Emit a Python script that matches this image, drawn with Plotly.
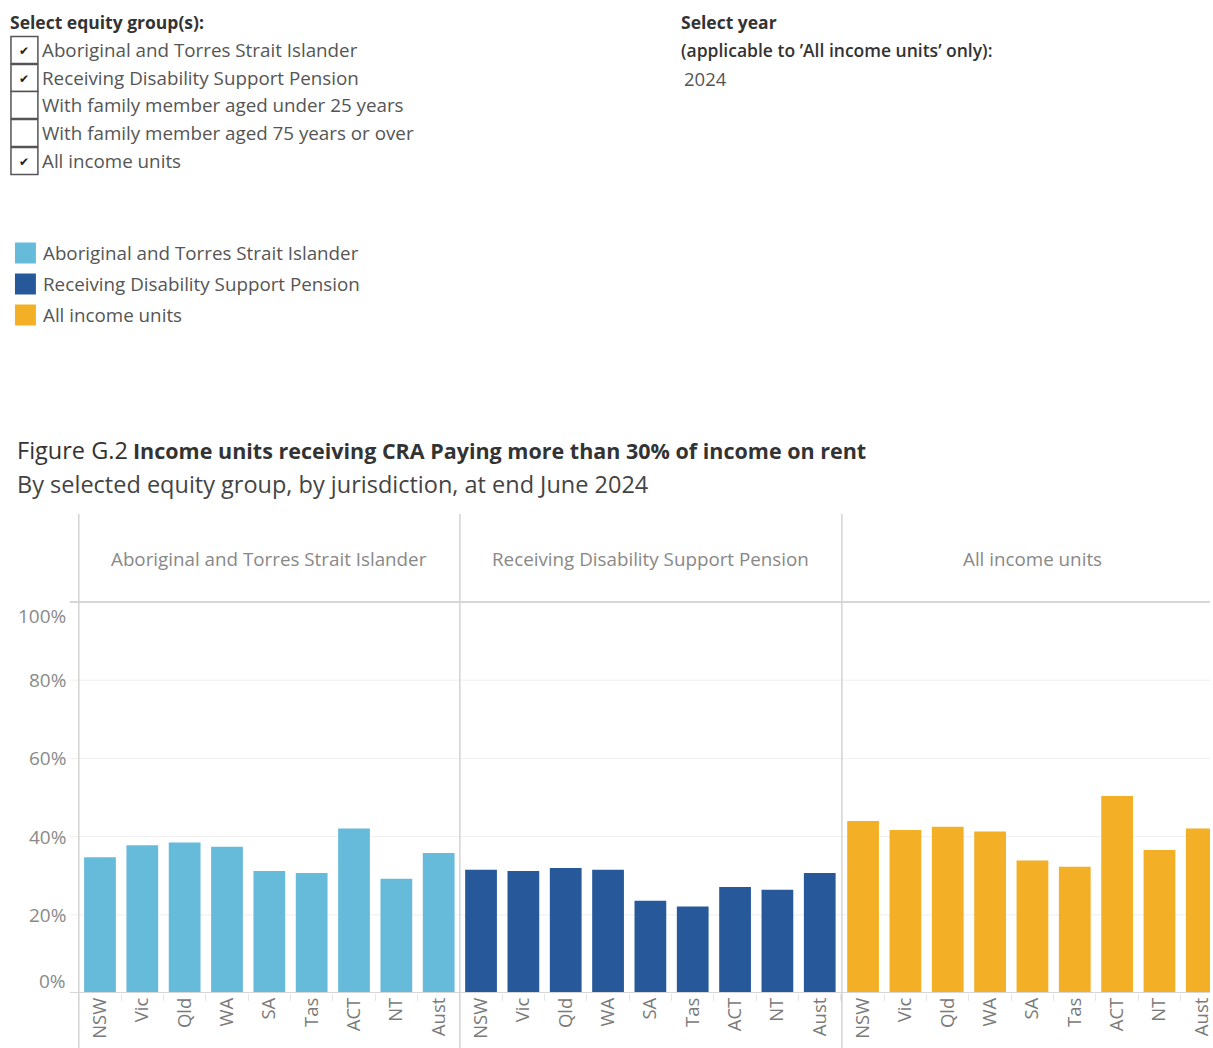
import plotly.graph_objects as go

W, H = 1213, 1048

# ---------------- data ----------------
jurisdictions = ["NSW", "Vic", "Qld", "WA", "SA", "Tas", "ACT", "NT", "Aust"]
groups = ["Aboriginal and Torres Strait Islander",
          "Receiving Disability Support Pension",
          "All income units"]
aboriginal = [34.7, 37.8, 38.5, 37.4, 31.2, 30.7, 42.1, 29.2, 35.8]
dsp = [31.5, 31.2, 32.0, 31.5, 23.6, 22.1, 27.1, 26.4, 30.7]
all_units = [44.0, 41.7, 42.5, 41.3, 33.9, 32.3, 50.4, 36.6, 42.1]
series = [aboriginal, dsp, all_units]
colors = ["#67BBDA", "#27599A", "#F3B027"]
y_ticks = [0, 20, 40, 60, 80, 100]
y_tick_labels = ["0%", "20%", "40%", "60%", "80%", "100%"]
checkbox_items = ["Aboriginal and Torres Strait Islander",
                  "Receiving Disability Support Pension",
                  "With family member aged under 25 years",
                  "With family member aged 75 years or over",
                  "All income units"]
checked = [True, True, False, False, True]
year = "2024"

FONT = "Open Sans"


def px(x):
    return x / W


def py(y):
    return 1 - y / H


fig = go.Figure()

panel_px = [(79, 461), (461, 844), (844, 1213)]
cat_w = (461 - 79) / 9.0
axis_names = ["x", "x2", "x3"]
for i, (vals, col) in enumerate(zip(series, colors)):
    fig.add_trace(go.Bar(
        x=jurisdictions, y=vals, marker=dict(color=col, line=dict(width=0)),
        xaxis=axis_names[i], yaxis="y", showlegend=False,
        name=groups[i],
        hovertemplate="%{x}: %{y:.1f}%<extra>" + groups[i] + "</extra>",
    ))

ydom = [py(993), py(602)]
layout = dict(
    width=W, height=H, margin=dict(l=0, r=0, t=0, b=0),
    paper_bgcolor="white", plot_bgcolor="rgba(0,0,0,0)",
    bargap=0.25, font=dict(family=FONT, color="#555"),
    yaxis=dict(domain=ydom, range=[0, 100], showgrid=False, zeroline=False,
               showticklabels=False, showline=False, fixedrange=True),
)
for i, (a, b) in enumerate(panel_px):
    key = "xaxis" if i == 0 else f"xaxis{i + 1}"
    vis_cats = (b - a) / cat_w
    layout[key] = dict(
        domain=[px(a), min(1.0, px(b))], anchor="y",
        range=[-0.5, -0.5 + vis_cats],
        type="category", categoryorder="array", categoryarray=jurisdictions,
        showgrid=False, zeroline=False, showline=False,
        ticks="outside", tickson="boundaries", ticklen=7, tickwidth=1,
        tickcolor="#e6e6e6",
        tickangle=-90, tickfont=dict(family=FONT, size=18.5, color="#7a7a7a"),
        fixedrange=True,
    )
fig.update_layout(**layout)

shapes = []
ann = []

# gridlines
for t in y_ticks[1:-1]:
    shapes.append(dict(type="line", xref="paper", yref="y", x0=px(70), x1=1,
                       y0=t, y1=t, line=dict(color="#efefef", width=1), layer="below"))
# zero line and header line
shapes.append(dict(type="line", xref="paper", yref="y", x0=px(70), x1=1,
                   y0=0, y1=0, line=dict(color="#d6d6d6", width=2), layer="above"))
shapes.append(dict(type="line", xref="paper", yref="paper", x0=px(70), x1=1,
                   y0=py(602), y1=py(602), line=dict(color="#d6d6d6", width=2)))
# panel divider lines
for xv in [79, 461, 844]:
    shapes.append(dict(type="line", xref="paper", yref="paper", x0=px(xv), x1=px(xv),
                       y0=py(514), y1=0, line=dict(color="#d3d3d3", width=1.5)))

# y tick labels (edge labels nudged inward as in the reference)
for t, lab in zip(y_ticks, y_tick_labels):
    shift = 0
    if t == 0:
        shift = 12
    elif t == 100:
        shift = -14
    ann.append(dict(xref="paper", yref="y", x=px(68), y=t, text=lab, showarrow=False,
                    xanchor="right", yanchor="middle", yshift=shift,
                    font=dict(family=FONT, size=19, color="#8a8a8a")))

# panel headers
for (a, b), g in zip([(79, 461), (461, 844), (844, 1227)], groups):
    ann.append(dict(xref="paper", yref="paper", x=px((a + b) / 2), y=py(559), text=g,
                    showarrow=False, xanchor="center", yanchor="middle",
                    font=dict(family=FONT, size=18.8, color="#888")))

# title and subtitle
ann.append(dict(xref="paper", yref="paper", x=px(15), y=py(450),
                text="Figure G.2",
                showarrow=False, xanchor="left", yanchor="middle",
                font=dict(family=FONT, size=23.5, color="#333")))
ann.append(dict(xref="paper", yref="paper", x=px(131), y=py(450),
                text="<b>Income units receiving CRA Paying more than 30% of income on rent</b>",
                showarrow=False, xanchor="left", yanchor="middle",
                font=dict(family=FONT, size=21.5, color="#333")))
ann.append(dict(xref="paper", yref="paper", x=px(15), y=py(484),
                text="By selected equity group, by jurisdiction, at end June 2024",
                showarrow=False, xanchor="left", yanchor="middle",
                font=dict(family=FONT, size=23.5, color="#444")))

# filter: equity groups
ann.append(dict(xref="paper", yref="paper", x=px(8), y=py(22),
                text="<b>Select equity group(s):</b>", showarrow=False,
                xanchor="left", yanchor="middle",
                font=dict(family=FONT, size=17.5, color="#333")))
row_y = [50, 78, 105, 133, 161]
for yy, lab, ck in zip(row_y, checkbox_items, checked):
    shapes.append(dict(type="rect", xref="paper", yref="paper",
                       x0=px(11), x1=px(38), y0=py(yy - 13.5), y1=py(yy + 13.5),
                       line=dict(color="#555", width=1.5), fillcolor="white"))
    if ck:
        ann.append(dict(xref="paper", yref="paper", x=px(24.5), y=py(yy + 1), text="✔",
                        showarrow=False, xanchor="center", yanchor="middle",
                        font=dict(family="DejaVu Sans", size=12, color="#222")))
    ann.append(dict(xref="paper", yref="paper", x=px(40), y=py(yy), text=lab,
                    showarrow=False, xanchor="left", yanchor="middle",
                    font=dict(family=FONT, size=18.8, color="#555")))

# filter: year
ann.append(dict(xref="paper", yref="paper", x=px(681), y=py(22),
                text="<b>Select year</b>", showarrow=False, xanchor="left", yanchor="middle",
                font=dict(family=FONT, size=17.5, color="#333")))
ann.append(dict(xref="paper", yref="paper", x=px(681), y=py(50),
                text="(applicable to ’All income units’ only):", showarrow=False,
                xanchor="left", yanchor="middle",
                font=dict(family=FONT, size=17.5, color="#333", weight=600)))
ann.append(dict(xref="paper", yref="paper", x=px(684), y=py(78), text=year,
                showarrow=False, xanchor="left", yanchor="middle",
                font=dict(family=FONT, size=18.5, color="#555")))

# colour legend
leg_y = [253, 284, 315]
for yy, g, c in zip(leg_y, groups, colors):
    shapes.append(dict(type="rect", xref="paper", yref="paper",
                       x0=px(15), x1=px(36), y0=py(yy - 10.5), y1=py(yy + 10.5),
                       line=dict(width=0), fillcolor=c))
    ann.append(dict(xref="paper", yref="paper", x=px(41), y=py(yy), text=g,
                    showarrow=False, xanchor="left", yanchor="middle",
                    font=dict(family=FONT, size=18.8, color="#555")))

fig.update_layout(shapes=shapes, annotations=ann)
fig.write_html(
    "out.html",
    config={"displayModeBar": False},
    post_script="document.body.style.margin='0';document.body.style.overflow='hidden';",
)
